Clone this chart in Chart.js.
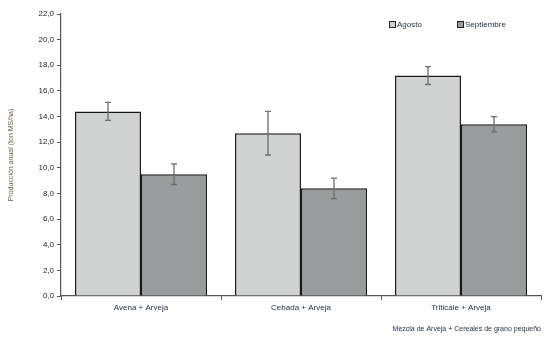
<!DOCTYPE html>
<html>
<head>
<meta charset="utf-8">
<script src="https://cdn.jsdelivr.net/npm/chart.js@4.4.0/dist/chart.umd.min.js"></script>
<style>
  html, body { margin: 0; padding: 0; background: #fff; }
  #wrap { width: 557px; height: 339px; }
</style>
</head>
<body>
<div id="wrap"><canvas id="barChart" width="557" height="339"></canvas></div>
<script>
// data
const categories = ['Avena + Arveja', 'Cebada + Arveja', 'Triticale + Arveja'];
const agosto = [14.4, 12.7, 17.2];
const agostoErr = [0.7, 1.7, 0.7];
const septiembre = [9.5, 8.4, 13.4];
const septiembreErr = [0.8, 0.8, 0.6];
const seriesNames = ['Agosto', 'Septiembre'];

const FONT = "'Liberation Sans', Arial, sans-serif";

// draws the +/- error whiskers on top of each bar
const errorBars = {
  id: 'errorBars',
  afterDatasetsDraw(chart) {
    const c = chart.ctx;
    const yScale = chart.scales.y;
    chart.data.datasets.forEach((ds, i) => {
      const meta = chart.getDatasetMeta(i);
      meta.data.forEach((bar, j) => {
        const v = ds.data[j], e = ds.errors[j];
        const yTop = yScale.getPixelForValue(v + e);
        const yBot = yScale.getPixelForValue(v - e);
        c.save();
        c.strokeStyle = '#6d6d6d';
        c.lineWidth = 1.3;
        c.beginPath();
        c.moveTo(bar.x, yTop); c.lineTo(bar.x, yBot);
        c.moveTo(bar.x - 3, yTop); c.lineTo(bar.x + 3, yTop);
        c.moveTo(bar.x - 3, yBot); c.lineTo(bar.x + 3, yBot);
        c.stroke();
        c.restore();
      });
    });
  }
};

// small legend inside the plot, top right
const innerLegend = {
  id: 'innerLegend',
  afterDraw(chart) {
    const c = chart.ctx;
    const area = chart.chartArea;
    const startX = [area.left + 328, area.left + 396];
    const y = area.top + 11;
    chart.data.datasets.forEach((ds, i) => {
      const x = startX[i];
      c.save();
      c.fillStyle = ds.backgroundColor;
      c.strokeStyle = '#222';
      c.lineWidth = 1;
      c.fillRect(x + 0.5, y - 3.5, 6, 6);
      c.strokeRect(x + 0.5, y - 3.5, 6, 6);
      c.fillStyle = '#1f2a44';
      c.font = '8px ' + FONT;
      c.textBaseline = 'middle';
      c.fillText(seriesNames[i], x + 8, y);
      c.restore();
    });
  }
};

const ctx = document.getElementById('barChart').getContext('2d');
new Chart(ctx, {
  type: 'bar',
  data: {
    labels: categories,
    datasets: [{
      label: seriesNames[0],
      data: agosto,
      errors: agostoErr,
      backgroundColor: '#d1d3d3',
      borderColor: '#1a1a1a',
      borderWidth: 1.5,
      categoryPercentage: 0.825,
      barPercentage: 1
    }, {
      label: seriesNames[1],
      data: septiembre,
      errors: septiembreErr,
      backgroundColor: '#9a9d9d',
      borderColor: '#1a1a1a',
      borderWidth: 1.5,
      categoryPercentage: 0.825,
      barPercentage: 1
    }]
  },
  options: {
    responsive: false,
    animation: false,
    layout: { padding: { left: 0, right: 16, top: 14, bottom: 0 } },
    plugins: {
      legend: { display: false },
      tooltip: { enabled: false }
    },
    scales: {
      x: {
        grid: { display: true, drawOnChartArea: false, offset: true, tickLength: 4, color: '#555' },
        border: { color: '#555', width: 1.2 },
        ticks: { color: '#1f2a44', font: { family: FONT, size: 8 }, padding: 3 },
        title: {
          display: true,
          text: 'Mezcla de Arveja + Cereales de grano pequeño',
          align: 'end',
          color: '#1f2a44',
          font: { family: FONT, size: 7 },
          padding: { top: 6, bottom: 6 }
        },
        afterFit(scale) { scale.height = 43; }
      },
      y: {
        min: 0,
        max: 22,
        grid: { display: true, drawOnChartArea: false, tickLength: 4, color: '#555' },
        border: { color: '#555', width: 1.2 },
        ticks: {
          stepSize: 2,
          color: '#222',
          font: { family: FONT, size: 8 },
          padding: 3,
          callback: v => v.toFixed(1).replace('.', ',')
        },
        title: {
          display: true,
          text: 'Producción anual (ton MS/ha)',
          color: '#6b5a48',
          font: { family: FONT, size: 7 },
          padding: { top: 7, bottom: 6 }
        },
        afterFit(scale) { scale.width = 61; }
      }
    }
  },
  plugins: [errorBars, innerLegend]
});
</script>
</body>
</html>
